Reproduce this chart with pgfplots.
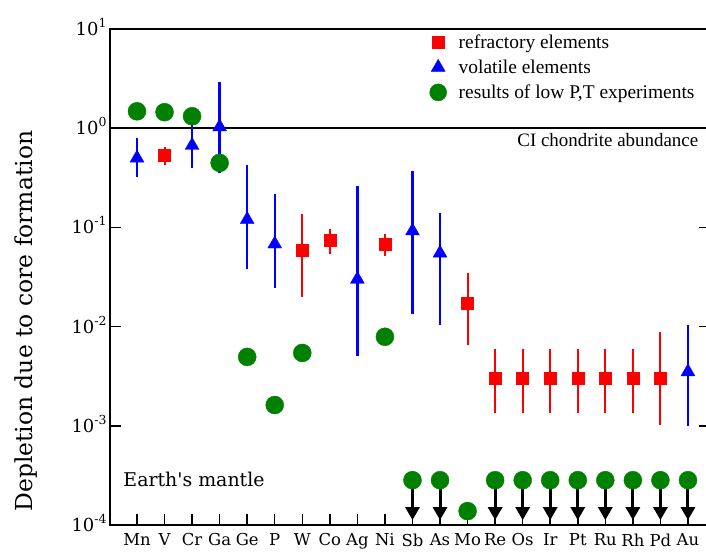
\documentclass[border=0pt]{standalone}
\usepackage{pgfplots}
\pgfplotsset{compat=1.18}
\usetikzlibrary{arrows.meta}
\usepackage{fontspec}
\setmainfont{Liberation Serif}
\newfontfamily\slab{DejaVu Serif}
\definecolor{mygreen}{RGB}{0,128,0}
\newcommand\ytl[1]{10\raisebox{0.45em}[0pt][0pt]{\fontsize{12.5}{12.5}\selectfont #1}}

\begin{document}
\begin{tikzpicture}
\begin{axis}[
 at={(0,0)}, anchor=south west,
 scale only axis, width=600bp, height=496bp,
 xmin=-0.98, xmax=20.8, ymode=log, ymin=1e-4, ymax=10,
 clip=false,
 axis line style={line width=1.8bp, black},
 xtick={0,...,20},
 xticklabels={Mn,V,Cr,Ga,Ge,P,W,Co,Ag,Ni,Sb,As,Mo,Re,Os,Ir,Pt,Ru,Rh,Pd,Au},
 xtick pos=bottom,
 ytick pos=both, yticklabel pos=left,
 ytick={1e-4,1e-3,1e-2,1e-1,1,10},
 yticklabels={\ytl{-4},\ytl{-3},\ytl{-2},\ytl{-1},\ytl{0},\ytl{1}},
 yminorticks=false,
 tick align=inside,
 major tick length=11bp,
 every tick/.style={black, line width=1.5bp},
 xticklabel style={font=\slab\fontsize{16.5}{16.5}\selectfont, yshift=-5bp},
 yticklabel style={font=\slab\fontsize{18}{18}\selectfont},
 every axis y label/.style={at={(axis description cs:-0.14,0.411)}, rotate=90, anchor=center, font=\slab\fontsize{23.5}{23.5}\selectfont},
 ylabel={Depletion due to core formation},
 legend style={at={(axis description cs:0.5325,0.993)}, anchor=north west, draw=none, fill=none, inner sep=0pt, row sep=6bp, column sep=10bp, font=\fontsize{19.5}{19.5}\selectfont},
 legend cell align=left,
]
\addlegendimage{only marks, mark=square*, mark size=6bp, red}
\addlegendentry{refractory elements}
\addlegendimage{only marks, mark=triangle*, mark size=8bp, blue}
\addlegendentry{volatile elements}
\addlegendimage{only marks, mark=*, mark size=8.5bp, mygreen}
\addlegendentry{results of low P,T experiments}

% CI chondrite line
\addplot[black, line width=1.8bp, forget plot] coordinates {(-0.98,1) (20.8,1)};

% volatile error bars
\addplot[blue, line width=2.3bp, unbounded coords=jump, forget plot] coordinates {
 (0,0.32) (0,0.80) (0,nan)
 (2,0.40) (2,1.15) (2,nan)
 (3,0.35) (3,2.9) (3,nan)
 (4,0.038) (4,0.43) (4,nan)
 (5,0.0245) (5,0.215) (5,nan)
 (8,0.0050) (8,0.26) (8,nan)
 (10,0.0133) (10,0.37) (10,nan)
 (11,0.0105) (11,0.14) (11,nan)
 (20,0.0010) (20,0.0105)
};
% refractory error bars
\addplot[red, line width=2bp, unbounded coords=jump, forget plot] coordinates {
 (1,0.43) (1,0.64) (1,nan)
 (6,0.020) (6,0.135) (6,nan)
 (7,0.054) (7,0.096) (7,nan)
 (9,0.052) (9,0.085) (9,nan)
 (12,0.0065) (12,0.035) (12,nan)
 (13,0.00134) (13,0.0060) (13,nan)
 (14,0.00134) (14,0.0060) (14,nan)
 (15,0.00134) (15,0.0060) (15,nan)
 (16,0.00134) (16,0.0060) (16,nan)
 (17,0.00134) (17,0.0060) (17,nan)
 (18,0.00134) (18,0.0060) (18,nan)
 (19,0.00102) (19,0.0088)
};
% volatile
\addplot[only marks, mark=triangle*, mark size=8bp, blue, forget plot] coordinates {
 (0,0.50) (2,0.67) (3,1.03) (4,0.12) (5,0.068) (8,0.030) (10,0.092) (11,0.055) (20,0.0035)
};
% refractory
\addplot[only marks, mark=square*, mark size=6bp, red, forget plot] coordinates {
 (1,0.54) (6,0.059) (7,0.074) (9,0.068) (12,0.0174)
 (13,0.0030) (14,0.0030) (15,0.0030) (16,0.0030) (17,0.0030) (18,0.0030) (19,0.0030)
};
% upper-limit arrows
\pgfplotsinvokeforeach{10,11,13,14,15,16,17,18,19,20}{
 \addplot[black, line width=3bp, -{Triangle[width=14bp,length=13bp]}, forget plot] coordinates {(#1,2.83e-4) (#1,1.12e-4)};
}
% low P,T experiments
\addplot[only marks, mark=*, mark size=9bp, mygreen, forget plot] coordinates {
 (0,1.48) (1,1.45) (2,1.32) (3,0.447) (4,0.00495) (5,0.00162) (6,0.00543) (9,0.0079)
 (10,2.83e-4) (11,2.83e-4) (12,1.38e-4) (13,2.83e-4) (14,2.83e-4) (15,2.83e-4)
 (16,2.83e-4) (17,2.83e-4) (18,2.83e-4) (19,2.83e-4) (20,2.83e-4)
};

\node[anchor=west, font=\slab\fontsize{19}{19}\selectfont] at (axis cs:-0.62,2.9e-4) {Earth's mantle};
\node[anchor=east, font=\fontsize{19}{19}\selectfont] at (axis cs:20.5,0.76) {CI chondrite abundance};
\end{axis}
\pgfresetboundingbox
\useasboundingbox (-110bp,-27bp) rectangle (596bp,525bp);
\end{tikzpicture}
\end{document}
